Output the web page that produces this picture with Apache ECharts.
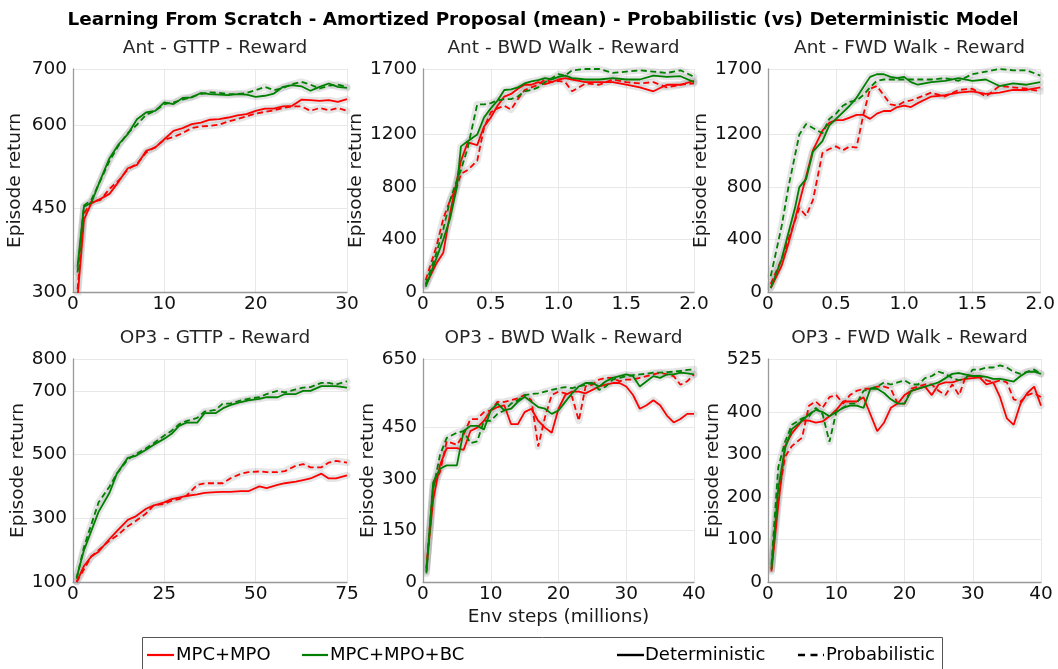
<!DOCTYPE html>
<html>
<head>
<meta charset="utf-8">
<script src="https://cdn.jsdelivr.net/npm/echarts@6/dist/echarts.min.js"></script>
<style>
html,body{margin:0;padding:0;background:#fff;}
#chart{width:1058px;height:669px;}
</style>
</head>
<body>
<div id="chart"></div>
<script>
// ---------------- DATA ----------------
const mainTitle = 'Learning From Scratch - Amortized Proposal (mean) - Probabilistic (vs) Deterministic Model';
const panelTitles = ['Ant - GTTP - Reward', 'Ant - BWD Walk - Reward', 'Ant - FWD Walk - Reward',
                     'OP3 - GTTP - Reward', 'OP3 - BWD Walk - Reward', 'OP3 - FWD Walk - Reward'];
const legendNames = ['MPC+MPO', 'MPC+MPO+BC', 'Deterministic', 'Probabilistic'];
const yAxisName = 'Episode return';
const xAxisName = 'Env steps (millions)';

// y tick labels per panel
const yTicks = [
  [300, 450, 600, 700],
  [0, 400, 800, 1200, 1700],
  [0, 400, 800, 1200, 1700],
  [100, 300, 500, 700, 800],
  [0, 150, 300, 450, 650],
  [0, 100, 200, 300, 400, 525]
];
// x tick labels per panel
const xTicks = [
  [0, 10, 20, 30],
  [0, 0.5, 1.0, 1.5, 2.0],
  [0, 0.5, 1.0, 1.5, 2.0],
  [0, 25, 50, 75],
  [0, 10, 20, 30, 40],
  [0, 10, 20, 30, 40]
];

// Panel 1: Ant - GTTP
const antGttpX = [0.5,1.2,2,3,4,5,6,7,8,9,10,11,12,13,14,15,16,17,18,19,20,21,22,23,24,25,26,27,28,29,30];
const antGttpMpoDet  = [290,430,459,467,476,498,522,528,553,559,574,589,594,601,604,609,610,613,617,619,625,629,629,633,634,645,644,643,644,641,646];
const antGttpMpoProb = [305,440,462,465,485,500,520,530,550,560,573,578,585,594,597,598,600,606,610,615,620,623,626,630,633,633,625,630,626,630,625];
const antGttpBcDet   = [345,453,460,501,540,565,583,610,622,625,640,637,648,649,657,655,654,653,655,654,650,652,656,668,671,669,661,668,674,668,666];
const antGttpBcProb  = [335,455,465,500,535,563,585,600,618,625,637,640,645,650,655,658,657,655,655,657,662,668,662,666,673,677,672,665,670,672,668];

// Panel 2: Ant - BWD Walk
const antBwdX = [0.02,0.1,0.15,0.2,0.25,0.28,0.33,0.4,0.45,0.5,0.55,0.6,0.65,0.7,0.75,0.8,0.85,0.9,0.95,1.0,1.05,1.1,1.2,1.3,1.4,1.5,1.6,1.7,1.8,1.9,2.0];
const antBwdMpoDet  = [50,220,300,600,850,1000,1140,1120,1260,1330,1420,1490,1510,1550,1580,1580,1600,1585,1600,1620,1630,1620,1600,1600,1600,1580,1560,1530,1580,1580,1610];
const antBwdMpoProb = [90,350,560,700,800,900,930,1000,1250,1370,1400,1420,1390,1470,1540,1560,1580,1620,1600,1610,1600,1530,1590,1580,1620,1600,1590,1600,1560,1580,1590];
const antBwdBcDet   = [40,260,400,560,800,1110,1150,1200,1330,1400,1460,1540,1545,1560,1590,1605,1615,1630,1620,1640,1650,1630,1620,1620,1630,1620,1620,1650,1640,1645,1600];
const antBwdBcProb  = [60,300,480,700,850,930,1100,1430,1430,1440,1460,1470,1470,1490,1530,1540,1560,1600,1630,1660,1650,1690,1700,1700,1670,1680,1690,1680,1670,1690,1640];

// Panel 3: Ant - FWD Walk
const antFwdX = [0.02,0.1,0.15,0.2,0.23,0.28,0.33,0.4,0.45,0.5,0.55,0.6,0.65,0.7,0.75,0.8,0.85,0.9,0.95,1.0,1.05,1.1,1.2,1.3,1.4,1.5,1.6,1.7,1.8,1.9,2.0];
const antFwdMpoDet  = [30,200,370,560,680,880,1080,1230,1290,1310,1310,1330,1350,1350,1320,1360,1380,1380,1410,1420,1410,1440,1490,1500,1520,1530,1510,1520,1540,1540,1560];
const antFwdMpoProb = [60,250,400,550,640,580,700,1060,1090,1110,1080,1110,1100,1350,1550,1570,1500,1430,1420,1450,1460,1480,1520,1490,1540,1550,1490,1570,1560,1550,1530];
const antFwdBcDet   = [30,250,450,650,800,860,1070,1150,1270,1320,1370,1420,1480,1560,1640,1660,1660,1640,1630,1640,1600,1580,1600,1610,1630,1610,1620,1570,1590,1580,1600];
const antFwdBcProb  = [120,500,800,1050,1200,1280,1250,1210,1320,1360,1420,1450,1460,1500,1560,1610,1620,1620,1620,1620,1620,1620,1620,1630,1610,1660,1680,1700,1690,1690,1650];

// Panel 4: OP3 - GTTP
const op3GttpX = [1,3,5,7,10,12,15,17,20,22,25,27,29,31,34,36,39,41,43,46,48,51,53,56,58,61,63,65,68,70,72,75];
const op3GttpMpoDet  = [100,150,180,195,235,260,295,305,330,340,350,360,365,370,375,380,382,383,383,385,385,400,395,405,410,415,420,425,440,425,425,435];
const op3GttpMpoProb = [100,140,180,200,230,245,275,290,315,340,345,355,360,370,405,410,410,410,425,440,445,447,445,445,448,465,470,460,460,475,480,475];
const op3GttpBcDet   = [115,200,260,320,380,440,490,495,515,530,550,565,590,600,600,630,630,645,655,665,670,675,680,680,690,690,700,700,715,715,715,710];
const op3GttpBcProb  = [110,210,280,350,400,440,485,500,520,535,560,575,595,605,615,635,640,660,660,670,675,680,690,700,695,705,710,712,725,725,720,730];

// Panel 5: OP3 - BWD Walk
const op3BwdX = [0.5,1.5,2.5,3.5,5,6,7,8,9,10,11,12,13,14,15,16,17,18,19,20,21,22,23,24,25,26,27,28,29,30,31,32,33,34,35,36,37,38,39,40];
const op3BwdMpoDet  = [40,240,340,390,390,385,440,450,470,500,510,515,460,460,495,505,470,450,435,505,545,555,555,550,560,570,575,580,580,570,545,505,515,530,515,485,465,475,490,490];
const op3BwdMpoProb = [40,280,320,410,400,430,475,475,495,500,525,525,530,535,545,530,395,480,545,555,550,540,470,570,575,590,595,595,585,590,590,595,600,605,610,605,600,575,585,605];
const op3BwdBcDet   = [30,290,330,340,340,440,455,455,445,500,520,500,505,525,540,525,510,505,490,500,525,550,570,580,580,570,585,595,600,605,600,570,585,600,595,605,605,610,608,605];
const op3BwdBcProb  = [25,270,370,420,435,440,405,410,470,470,490,500,520,530,545,548,550,555,560,565,568,565,570,575,580,560,570,590,595,600,603,605,607,610,610,612,613,615,618,620];

// Panel 6: OP3 - FWD Walk
const op3FwdX = [0.5,1.5,2.5,3.5,5,6,7,8,9,10,11,12,13,14,15,16,17,18,19,20,21,22,23,24,25,26,27,28,29,30,31,32,33,34,35,36,37,38,39,40];
const op3FwdMpoDet  = [25,180,320,350,380,380,375,378,390,405,425,425,425,435,395,355,375,410,420,440,450,455,460,440,465,470,470,475,478,480,482,465,470,435,385,370,420,445,460,415];
const op3FwdMpoProb = [30,200,295,320,340,415,425,410,435,440,420,440,450,455,455,460,460,455,420,420,455,460,465,465,450,440,465,440,485,485,485,475,470,475,470,430,425,440,445,435];
const op3FwdBcDet   = [30,220,315,360,380,395,405,400,390,400,410,415,415,410,455,455,445,430,420,420,450,455,460,465,470,480,490,492,488,485,485,483,478,478,475,472,485,495,495,490];
const op3FwdBcProb  = [40,270,330,370,385,390,410,395,330,400,410,420,420,450,455,460,470,465,470,475,465,465,480,485,495,490,480,475,480,500,500,505,505,510,505,495,490,495,500,490];

const panels = [
  {x: antGttpX, s: [antGttpMpoDet, antGttpMpoProb, antGttpBcDet, antGttpBcProb]},
  {x: antBwdX,  s: [antBwdMpoDet,  antBwdMpoProb,  antBwdBcDet,  antBwdBcProb]},
  {x: antFwdX,  s: [antFwdMpoDet,  antFwdMpoProb,  antFwdBcDet,  antFwdBcProb]},
  {x: op3GttpX, s: [op3GttpMpoDet, op3GttpMpoProb, op3GttpBcDet, op3GttpBcProb]},
  {x: op3BwdX,  s: [op3BwdMpoDet,  op3BwdMpoProb,  op3BwdBcDet,  op3BwdBcProb]},
  {x: op3FwdX,  s: [op3FwdMpoDet,  op3FwdMpoProb,  op3FwdBcDet,  op3FwdBcProb]}
];

// ---------------- LAYOUT / STYLE ----------------
const RED = '#ff0000', GREEN = '#008000';
const FONT = 'DejaVu Sans';
const grids = [
  {left: 73,  top: 69,  width: 274, height: 223},
  {left: 423, top: 69,  width: 271, height: 223},
  {left: 768, top: 69,  width: 273, height: 223},
  {left: 73,  top: 359, width: 274, height: 223},
  {left: 423, top: 359, width: 271, height: 223},
  {left: 768, top: 359, width: 273, height: 223}
];
const yNameGaps = [48, 54, 51, 40, 42, 41];

const xAxes = [], yAxes = [], series = [], titles = [];
titles.push({text: mainTitle, left: 538, top: 6, textAlign: 'center',
  textStyle: {fontFamily: FONT, fontSize: 18.4, fontWeight: 'bold', color: '#000'}});

panels.forEach((p, i) => {
  const g = grids[i];
  const xt = xTicks[i], yt = yTicks[i];
  titles.push({text: panelTitles[i], left: g.left + g.width / 2, top: g.top - 35, textAlign: 'center',
    textStyle: {fontFamily: FONT, fontSize: 18.5, fontWeight: 'normal', color: '#262626'}});
  xAxes.push({
    type: 'value', gridIndex: i, min: xt[0], max: xt[xt.length - 1],
    interval: xt[1] - xt[0],
    name: i === 4 ? xAxisName : '', nameLocation: 'middle', nameGap: 26,
    nameTextStyle: {fontFamily: FONT, fontSize: 18.5, color: '#1a1a1a'},
    axisLine: {show: true, onZero: false, lineStyle: {color: '#999', width: 1.3}},
    axisTick: {show: false},
    axisLabel: {fontFamily: FONT, fontSize: 18.5, color: '#111', margin: 3,
      formatter: v => (xt[1] < 1 ? (v === 0 ? '0' : v.toFixed(1)) : String(v))},
    splitLine: {show: true, lineStyle: {color: '#e8e8e8', width: 1}}
  });
  yAxes.push({
    type: 'value', gridIndex: i, min: yt[0], max: yt[yt.length - 1],
    name: yAxisName, nameLocation: 'middle', nameRotate: 90, nameGap: yNameGaps[i],
    nameTextStyle: {fontFamily: FONT, fontSize: 18.5, color: '#1a1a1a'},
    axisLine: {show: true, onZero: false, lineStyle: {color: '#999', width: 1.3}},
    axisTick: {show: false, customValues: yt},
    axisLabel: {fontFamily: FONT, fontSize: 18.5, color: '#111', margin: 6, customValues: yt,
      formatter: v => String(v)},
    splitLine: {show: true, lineStyle: {color: '#e8e8e8', width: 1}}
  });
  const styles = [
    {c: RED, d: 'solid'}, {c: RED, d: [6, 3.5]},
    {c: GREEN, d: 'solid'}, {c: GREEN, d: [6, 3.5]}
  ];
  // shaded bands (drawn underneath)
  p.s.forEach((vals, k) => {
    series.push({
      type: 'line', xAxisIndex: i, yAxisIndex: i, silent: true,
      data: p.x.map((xv, j) => [xv, vals[j]]),
      showSymbol: false, symbol: 'none', z: 1,
      lineStyle: {color: 'rgba(150,150,150,0.24)', width: 7, cap: 'round', join: 'round'}
    });
  });
  p.s.forEach((vals, k) => {
    series.push({
      type: 'line', xAxisIndex: i, yAxisIndex: i,
      name: legendNames[k < 2 ? 0 : 1],
      data: p.x.map((xv, j) => [xv, vals[j]]),
      showSymbol: false, symbol: 'none', z: 3,
      lineStyle: {color: styles[k].c, width: 1.8, type: styles[k].d}
    });
  });
});

// legend drawn with graphic elements
const legendY = 655;
const LFONT = '18px "DejaVu Sans"';
const graphic = [
  {type: 'rect', shape: {x: 142.5, y: 637.5, width: 800, height: 40},
   style: {fill: '#fff', stroke: '#555', lineWidth: 1}, z: 10},
  {type: 'line', shape: {x1: 147, y1: legendY, x2: 174, y2: legendY}, style: {stroke: RED, lineWidth: 2.2}, z: 11},
  {type: 'text', x: 176, y: legendY, style: {text: legendNames[0], font: LFONT, fill: '#000', verticalAlign: 'middle'}, z: 11},
  {type: 'line', shape: {x1: 302, y1: legendY, x2: 328, y2: legendY}, style: {stroke: GREEN, lineWidth: 2.2}, z: 11},
  {type: 'text', x: 330, y: legendY, style: {text: legendNames[1], font: LFONT, fill: '#000', verticalAlign: 'middle'}, z: 11},
  {type: 'line', shape: {x1: 617, y1: legendY, x2: 644, y2: legendY}, style: {stroke: '#000', lineWidth: 2.4}, z: 11},
  {type: 'text', x: 645, y: legendY, style: {text: legendNames[2], font: LFONT, fill: '#000', verticalAlign: 'middle'}, z: 11},
  {type: 'line', shape: {x1: 798, y1: legendY, x2: 824, y2: legendY}, style: {stroke: '#000', lineWidth: 2.4, lineDash: [7, 5.5]}, z: 11},
  {type: 'text', x: 826, y: legendY, style: {text: legendNames[3], font: LFONT, fill: '#000', verticalAlign: 'middle'}, z: 11}
];

const chart = echarts.init(document.getElementById('chart'), null, {renderer: 'canvas'});
chart.setOption({
  animation: false,
  backgroundColor: '#fff',
  textStyle: {fontFamily: FONT},
  title: titles,
  grid: grids,
  xAxis: xAxes,
  yAxis: yAxes,
  series: series,
  graphic: graphic
});
</script>
</body>
</html>
